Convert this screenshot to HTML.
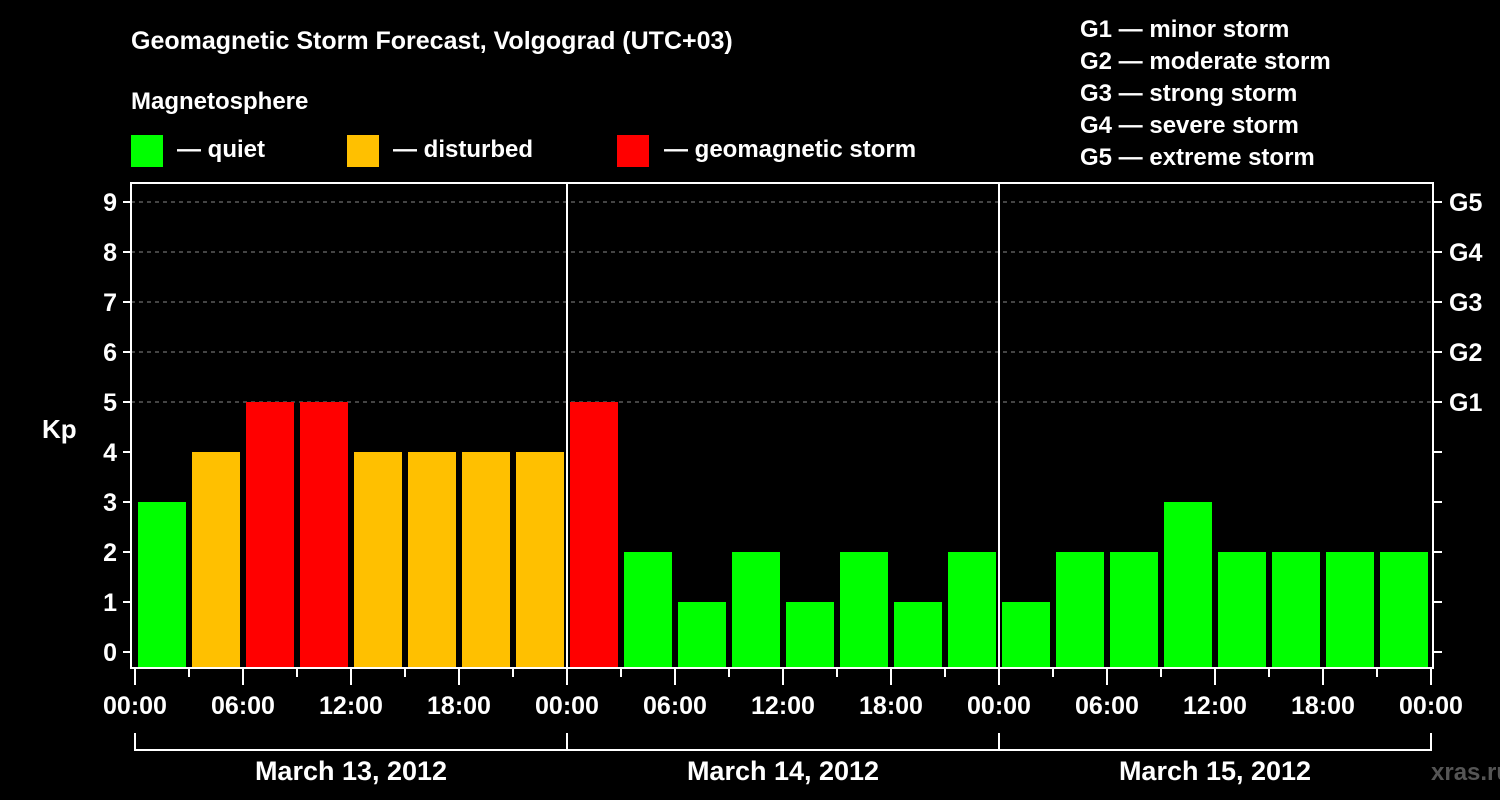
<!DOCTYPE html>
<html><head><meta charset="utf-8"><style>
html,body{margin:0;padding:0;background:#000;}
svg{display:block;font-family:"Liberation Sans",Arial,sans-serif;font-weight:bold;}
</style></head><body>
<svg id="c" width="1500" height="800" xmlns="http://www.w3.org/2000/svg">
<rect width="1500" height="800" fill="#000"/>
<text x="131" y="49" fill="#fff" font-size="25">Geomagnetic Storm Forecast, Volgograd (UTC+03)</text>
<text x="131" y="109" fill="#fff" font-size="24">Magnetosphere</text>
<g><rect x="131" y="135" width="32" height="32" fill="#00ff00"/><text x="177" y="157" fill="#fff" font-size="24">— quiet</text></g>
<g><rect x="347" y="135" width="32" height="32" fill="#ffc000"/><text x="393" y="157" fill="#fff" font-size="24">— disturbed</text></g>
<g><rect x="617" y="135" width="32" height="32" fill="#ff0000"/><text x="664" y="157" fill="#fff" font-size="24">— geomagnetic storm</text></g>
<g fill="#fff" font-size="24">
<text x="1080" y="37">G1 — minor storm</text>
<text x="1080" y="69">G2 — moderate storm</text>
<text x="1080" y="101">G3 — strong storm</text>
<text x="1080" y="133">G4 — severe storm</text>
<text x="1080" y="165">G5 — extreme storm</text>
</g>
<text x="42" y="438" fill="#fff" font-size="26">Kp</text>
<text x="1431" y="780" fill="#555" font-size="24">xras.ru</text>
<g id="layer"></g>
</svg>
<script>
const kpValues=[3,4,5,5,4,4,4,4, 5,2,1,2,1,2,1,2, 1,2,2,3,2,2,2,2];
const dayLabels=["March 13, 2012","March 14, 2012","March 15, 2012"];
const hourLabels=["00:00","06:00","12:00","18:00"];
const yTicks=[0,1,2,3,4,5,6,7,8,9];
const gLabels=["G1","G2","G3","G4","G5"];

const NS="http://www.w3.org/2000/svg";
const L=document.getElementById('layer');
const X0=135,SLOT=54,DAY=432,PL=131,PR=1433,PT=183,PB=668;
const y=v=>652-v*50;
const x=h=>X0+h*SLOT/3;
function mk(t,a,p){const e=document.createElementNS(NS,t);for(const k in a)e.setAttribute(k,a[k]);(p||L).appendChild(e);return e;}
function color(v){return v>=5?"#ff0000":v>=4?"#ffc000":"#00ff00";}

yTicks.forEach(v=>{
  if(v>=5){const g=mk('line',{x1:PL,x2:PR,y1:y(v),y2:y(v),stroke:"#888","stroke-dasharray":"4,4","stroke-width":1});
  
  }
  const t=mk('line',{x1:PL-8,x2:PL,y1:y(v),y2:y(v),stroke:"#fff","stroke-width":2});
  
  
  const t2=mk('line',{x1:PR,x2:PR+9,y1:y(v),y2:y(v),stroke:"#fff","stroke-width":2});
  
  
  const lb=mk('text',{x:PL-14,y:y(v)+9,fill:"#fff","font-size":25,"text-anchor":"end"});
  lb.textContent=v;
  
  
  if(v>=5){const g=mk('text',{x:1449,y:y(v)+9,fill:"#fff","font-size":25});
  g.textContent=gLabels[v-5];
  
  }
});

kpValues.forEach((v,i)=>{
  const b=mk('rect',{x:X0+i*SLOT+3,y:y(v),width:48,height:PB-y(v),fill:color(v)});
  
  
});

const fr=mk('rect',{x:PL,y:PT,width:PR-PL,height:PB-PT,fill:"none",stroke:"#fff","stroke-width":2});


for(let d=1;d<3;d++){
  const s=mk('line',{x1:X0+d*DAY,x2:X0+d*DAY,y1:PT,y2:PB,stroke:"#fff","stroke-width":2});
  
  
}
for(let h=0;h<=72;h+=3){
  const major=h%6===0;
  const t=mk('line',{x1:x(h),x2:x(h),y1:PB,y2:PB+(major?17:9),stroke:"#fff","stroke-width":2});
  
  
  if(major){const lb=mk('text',{x:x(h),y:714,fill:"#fff","font-size":25,"text-anchor":"middle"});
  lb.textContent=hourLabels[(h%24)/6];
  
  }
}
dayLabels.forEach((d,i)=>{
  const x1=X0+i*DAY,x2=X0+(i+1)*DAY;
  const br=mk('path',{d:`M${x1},733V750H${x2}V733`,fill:"none",stroke:"#fff","stroke-width":2});
  
  
  const t=mk('text',{x:(x1+x2)/2,y:780,fill:"#fff","font-size":27,"text-anchor":"middle"});
  t.textContent=d;
  
  
});
</script>
</body></html>
